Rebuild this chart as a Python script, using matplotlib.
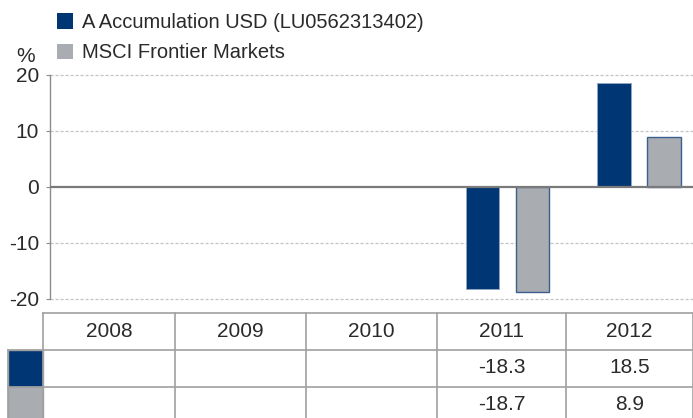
import numpy as np
import matplotlib
matplotlib.use('Agg')
import matplotlib.pyplot as plt
from matplotlib.patches import Patch, Rectangle

years = ['2008', '2009', '2010', '2011', '2012']
fund = [None, None, None, -18.3, 18.5]
index = [None, None, None, -18.7, 8.9]
series_names = ['A Accumulation USD (LU0562313402)', 'MSCI Frontier Markets']
y_ticks = [-20, -10, 0, 10, 20]

navy = '#003673'
grey = '#a9acb1'
line_grey = '#8c8c8c'
txt = '#2a2a2a'

plt.rcParams['font.family'] = ['Liberation Sans', 'DejaVu Sans']

W, H = 693, 418
fig = plt.figure(figsize=(W / 100, H / 100), dpi=100)

# bar chart area (pixel layout converted to figure fractions)
ax = fig.add_axes([50 / W, 1 - 299 / H, (W - 50) / W, 224 / H])
x = np.arange(len(years))
fv = np.array([np.nan if v is None else v for v in fund])
iv = np.array([np.nan if v is None else v for v in index])
ax.bar(x - 0.19, fv, width=0.255, color=navy, edgecolor='#8fa5c3', linewidth=0.7, zorder=3)
ax.bar(x + 0.19, iv, width=0.255, color=grey, edgecolor='#3d5f8f', linewidth=1.0, zorder=3)
ax.set_xlim(-0.479, 4.411)
ax.set_ylim(-20, 20)
for t in y_ticks:
    if t == 0:
        ax.axhline(0, color='#7a7a7a', lw=1.6, zorder=4)
    else:
        ax.axhline(t, color='#c4c4c4', lw=0.9, ls=(0, (2.5, 1.5)), zorder=1, clip_on=False)
ax.set_yticks(y_ticks)
ax.set_yticklabels([str(t) for t in y_ticks], fontsize=15, color=txt)
ax.tick_params(axis='y', length=3, width=0.8, color=line_grey, pad=5)
ax.set_xticks([])
for s in ['top', 'right', 'bottom']:
    ax.spines[s].set_visible(False)
ax.spines['left'].set_color(line_grey)
ax.spines['left'].set_linewidth(1.0)
ax.text(-0.023, 1.04, '%', transform=ax.transAxes, ha='right', va='bottom',
        fontsize=15, color=txt)

# legend
handles = [Patch(facecolor=navy, edgecolor='none'), Patch(facecolor=grey, edgecolor='none')]
fig.legend(handles, series_names, loc='upper left', bbox_to_anchor=(57 / W, 1 - 13 / H),
           frameon=False, fontsize=14.5, handlelength=0.78, handleheight=0.78,
           handletextpad=0.45, labelspacing=0.57, borderaxespad=0, borderpad=0,
           labelcolor=txt)

# data table underneath, drawn in pixel coordinates
tab = fig.add_axes([0, 0, 1, 1])
tab.set_xlim(0, W)
tab.set_ylim(H, 0)
tab.axis('off')
col_edges = [43, 175, 306, 437, 566, 693]
row_edges = [313, 350, 387, 424]
lc = '#a0a0a0'
for xe in col_edges:
    tab.plot([xe, xe], [row_edges[0], H], color=lc, lw=1.2)
for ye in row_edges[:3]:
    tab.plot([8 if ye > row_edges[0] else col_edges[0], col_edges[-1]], [ye, ye], color=lc, lw=1.2)
tab.plot([8, 8], [row_edges[1], H], color=lc, lw=1.2)
tab.add_patch(Rectangle((8, row_edges[1]), col_edges[0] - 8, 37, facecolor=navy, edgecolor=lc, lw=1))
tab.add_patch(Rectangle((8, row_edges[2]), col_edges[0] - 8, 37, facecolor=grey, edgecolor=lc, lw=1))
for i, yr in enumerate(years):
    cx = (col_edges[i] + col_edges[i + 1]) / 2
    tab.text(cx, (row_edges[0] + row_edges[1]) / 2, yr, ha='center', va='center', fontsize=15, color=txt)
    for r, vals in enumerate([fund, index]):
        if vals[i] is not None:
            tab.text(cx, (row_edges[r + 1] + row_edges[r + 2]) / 2 - 1, f'{vals[i]:.1f}', ha='center',
                     va='center', fontsize=15, color=txt)

fig.savefig('out.png', dpi=100)
